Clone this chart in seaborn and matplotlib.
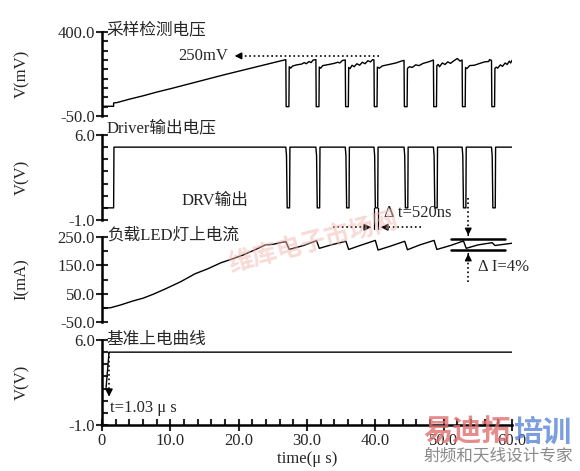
import numpy as np
import matplotlib
matplotlib.use("Agg")
import matplotlib.pyplot as plt
import seaborn as sns
from matplotlib.ticker import MultipleLocator, FixedLocator

# ==========================================
# 0. style / fonts
# ==========================================
sns.set_style("white")
plt.rcParams["font.family"] = ["Liberation Serif", "Noto Sans CJK SC", "DejaVu Sans"]
plt.rcParams["axes.unicode_minus"] = False
FS = 12

# ==========================================
# 1. data
# ==========================================
# panel 1: sampling voltage (mV)
sense_t = [0.0, 1.7, 1.7, 2.2, 4.0, 6.0, 8.0, 10.0, 12.0, 14.0, 16.0, 18.0, 20.0, 22.0, 24.0, 26.9,
           26.95, 27.35, 27.4, 27.6, 27.9, 28.5, 29.2, 29.6, 29.9, 30.3, 30.6, 30.9, 31.3,
           31.35, 31.75, 31.8, 32.0, 32.3, 33.2, 34.0, 34.5, 34.8, 35.2, 35.6,
           35.65, 36.05, 36.1, 36.3, 36.6, 36.9, 37.3, 37.7, 38.1, 38.5, 38.9, 39.3, 39.6, 39.8,
           39.85, 40.25, 40.3, 40.6, 41.0, 42.0, 43.0, 43.8, 44.2,
           44.25, 44.65, 44.7, 45.0, 45.4, 45.9, 46.4, 47.0, 47.6, 48.1, 48.5,
           48.55, 48.95, 49.0, 49.2, 49.4, 49.8, 50.2, 50.6, 51.0, 51.5, 52.0, 52.4, 52.7,
           52.75, 53.15, 53.2, 53.4, 53.8, 54.5, 55.3, 56.0, 56.6, 56.7, 57.0,
           57.05, 57.45, 57.5, 57.7, 57.9, 58.3, 58.6, 59.0, 59.3, 59.6, 59.8, 60.0]
sense_mv = [2, 2, 20, 22, 40, 58, 78, 96, 115, 134, 153, 172, 190, 208, 226, 252,
            0, 0, 214, 206, 218, 224, 228, 236, 230, 242, 236, 250, 252,
            0, 0, 212, 206, 220, 226, 232, 238, 234, 248, 250,
            0, 0, 210, 204, 222, 214, 230, 222, 238, 230, 246, 240, 252, 250,
            0, 0, 212, 206, 218, 226, 234, 244, 248,
            0, 0, 205, 214, 210, 224, 220, 232, 238, 244, 250,
            0, 0, 220, 226, 214, 234, 226, 240, 232, 246, 258, 244, 250,
            0, 0, 210, 204, 220, 222, 232, 240, 242, 252, 248,
            0, 0, 205, 212, 206, 224, 216, 234, 226, 244, 234, 248]

# panel 2: driver output (V)
drv_t = [0.0, 1.7, 1.75,
         26.9, 27.0, 27.1, 27.45, 27.5,
         31.3, 31.4, 31.5, 31.85, 31.9,
         35.6, 35.7, 35.8, 36.15, 36.2,
         39.8, 39.9, 40.0, 40.35, 40.4,
         44.2, 44.3, 44.4, 44.75, 44.8,
         48.5, 48.6, 48.7, 49.05, 49.1,
         52.7, 52.8, 52.9, 53.25, 53.3,
         57.0, 57.1, 57.2, 57.55, 57.6,
         60.0]
drv_v = [0.0, 0.0, 5.0,
         5.0, 4.3, 0.0, 0.0, 5.0,
         5.0, 4.3, 0.0, 0.0, 5.0,
         5.0, 4.3, 0.0, 0.0, 5.0,
         5.0, 4.3, 0.0, 0.0, 5.0,
         5.0, 4.3, 0.0, 0.0, 5.0,
         5.0, 4.3, 0.0, 0.0, 5.0,
         5.0, 4.3, 0.0, 0.0, 5.0,
         5.0, 4.3, 0.0, 0.0, 5.0,
         5.0]

# panel 3: LED load current (mA)
led_t = [0.0, 1.2, 2.7, 4.5, 6.0, 7.5, 9.2, 11.5, 13.6, 15.5, 17.4, 19.0, 20.6, 22.3, 23.9, 25.0, 26.3, 26.9,
         27.4, 29.5, 31.4, 31.8, 33.5, 35.7, 36.1, 38.0, 40.0, 40.4, 42.0, 44.3, 44.7,
         46.5, 48.6, 49.0, 51.0, 52.9, 53.3, 55.0, 57.1, 57.5, 60.0]
led_ma = [0, 0, 10, 24, 34, 48, 66, 92, 120, 138, 159, 172, 186, 204, 222, 224, 231, 234,
          206, 220, 237, 210, 222, 235, 206, 222, 238, 204, 216, 235, 205,
          222, 238, 206, 220, 236, 210, 222, 230, 220, 228]

# panel 4: reference power-up (V)
ref_t = [0.6, 1.03, 60.0]
ref_v = [2.1, 5.0, 5.0]

# ==========================================
# 2. figure
# ==========================================
def plot_driver_waveforms():
    fig = plt.figure(figsize=(5.8, 4.71), dpi=100)
    left, width = 102 / 580, 410 / 580
    boxes = [(116, 84), (220, 85), (322, 85), (425, 85)]
    axes = [fig.add_axes([left, 1 - b / 471, width, h / 471]) for b, h in boxes]
    ax1, ax2, ax3, ax4 = axes

    # faint watermark behind the traces
    fig.text(0.54, 0.485, "维库电子市场网", fontsize=18, color="#f2b8b0", rotation=15, alpha=0.5,
             ha="center", va="center", fontweight="bold", zorder=0, family=["Noto Sans CJK SC"])

    traces = [(ax1, sense_t, sense_mv), (ax2, drv_t, drv_v), (ax3, led_t, led_ma), (ax4, ref_t, ref_v)]
    for ax, t, v in traces:
        sns.lineplot(x=t, y=v, ax=ax, sort=False, estimator=None, color="black", linewidth=1.0)

    ylims = [(-50, 400), (-1, 6), (-50, 250), (-1, 6)]
    majors = [[-50, 400], [-1, 6], [-50, 50, 150, 250], [-1, 6]]
    minors = [50, 1, 50, 1]
    ylabels = ["V(mV)", "V(V)", "I(mA)", "V(V)"]
    titles = ["采样检测电压", "Driver输出电压", "负载LED灯上电流", "基准上电曲线"]
    title_y = [1.02, 1.08, 1.02, 1.0]

    for i, ax in enumerate(axes):
        ax.set_xlim(0, 60)
        ax.set_ylim(*ylims[i])
        ax.yaxis.set_major_locator(FixedLocator(majors[i]))
        ax.yaxis.set_minor_locator(MultipleLocator(minors[i]))
        ax.set_yticklabels([f"{m:.1f}" for m in majors[i]], fontsize=FS)
        ax.tick_params(axis="y", which="major", direction="inout", length=8, width=1.5, pad=1, left=True)
        ax.tick_params(axis="y", which="minor", direction="in", length=4, width=1.5, left=True)
        for s in ["top", "right", "bottom"]:
            ax.spines[s].set_visible(False)
        ax.spines["left"].set_linewidth(1.8)
        ax.spines["left"].set_color("black")
        ax.set_ylabel(ylabels[i], fontsize=FS)
        ax.yaxis.set_label_coords(-0.175, 0.5)
        ax.text(0.012, title_y[i], titles[i], transform=ax.transAxes, fontsize=FS, va="center", ha="left")
        ax.set_facecolor("none")
        if i < 3:
            ax.tick_params(axis="x", bottom=False, labelbottom=False)
            ax.set_xlabel("")

    # bottom time axis
    ax4.spines["bottom"].set_visible(True)
    ax4.spines["bottom"].set_linewidth(1.8)
    ax4.spines["bottom"].set_color("black")
    ax4.xaxis.set_major_locator(FixedLocator([0, 10, 20, 30, 40, 50, 60]))
    ax4.xaxis.set_minor_locator(MultipleLocator(2))
    ax4.set_xticklabels(["0", "10.0", "20.0", "30.0", "40.0", "50.0", "60.0"], fontsize=FS)
    ax4.tick_params(axis="x", which="major", direction="inout", length=8, width=1.5, pad=2, bottom=True)
    ax4.tick_params(axis="x", which="minor", direction="in", length=4, width=1.5, bottom=True)
    ax4.set_xlabel("time(μ s)", fontsize=FS, labelpad=1)

    # ---- annotations panel 1
    ax1.plot([19.6, 40.7], [272, 272], ls=":", color="black", lw=1.2)
    ax1.annotate("", xy=(19.0, 272), xytext=(20.4, 272),
                 arrowprops=dict(arrowstyle="-|>", color="black", lw=1, mutation_scale=10))
    ax1.text(18.5, 272, "250mV", ha="right", va="center", fontsize=FS)

    # ---- annotations panel 2 (delta t)
    ax2.text(11.6, 0.6, "DRV输出", fontsize=FS, va="center", ha="left")
    ax2.plot([39.8, 39.8], [0, -1.75], color="black", lw=0.9, clip_on=False)
    ax2.plot([40.4, 40.4], [0, -1.75], color="black", lw=0.9, clip_on=False)
    ax2.plot([33.8, 39.0], [-1.6, -1.6], ls=":", color="black", lw=1.2, clip_on=False)
    ax2.plot([41.2, 46.9], [-1.6, -1.6], ls=":", color="black", lw=1.2, clip_on=False)
    ax2.annotate("", xy=(39.8, -1.6), xytext=(38.6, -1.6), annotation_clip=False,
                 arrowprops=dict(arrowstyle="-|>", color="black", lw=1, mutation_scale=10))
    ax2.annotate("", xy=(40.4, -1.6), xytext=(41.6, -1.6), annotation_clip=False,
                 arrowprops=dict(arrowstyle="-|>", color="black", lw=1, mutation_scale=10))
    ax2.text(41.3, -0.45, "Δ t=520ns", fontsize=FS, va="center", ha="left")

    # ---- annotations panel 3 (delta I)
    ax3.plot([51.0, 59.0], [244, 244], color="black", lw=1.8)
    ax3.plot([51.0, 59.0], [203, 203], color="black", lw=1.8)
    ax3.plot([53.6, 53.6], [388, 262], ls=":", color="black", lw=1.2, clip_on=False)
    ax3.annotate("", xy=(53.6, 246), xytext=(53.6, 266), annotation_clip=False,
                 arrowprops=dict(arrowstyle="-|>", color="black", lw=1, mutation_scale=10))
    ax3.plot([53.6, 53.6], [90, 182], ls=":", color="black", lw=1.2)
    ax3.annotate("", xy=(53.6, 201), xytext=(53.6, 180),
                 arrowprops=dict(arrowstyle="-|>", color="black", lw=1, mutation_scale=10))
    ax3.text(55.0, 144, "Δ I=4%", fontsize=FS, va="center", ha="left")

    # ---- annotations panel 4
    ax4.plot([1.03, 1.03], [5.0, 1.9], ls=":", color="black", lw=1.2)
    ax4.annotate("", xy=(1.03, 1.1), xytext=(1.03, 2.0),
                 arrowprops=dict(arrowstyle="-|>", color="black", lw=1, mutation_scale=11))
    ax4.text(1.2, 0.4, "t=1.03 μ s", fontsize=FS, va="center", ha="left")

    # ---- corner watermark (overlaps the tick labels, as in the source)
    fig.text(0.73, 0.083, "易迪拓", fontsize=21, color="#e07070", fontweight="bold",
             ha="left", va="center", alpha=0.8, family=["Noto Sans CJK SC"])
    fig.text(0.885, 0.083, "培训", fontsize=21, color="#5b86d6", fontweight="bold",
             ha="left", va="center", alpha=0.8, family=["Noto Sans CJK SC"])
    fig.text(0.73, 0.032, "射频和天线设计专家", fontsize=12, color="#8a8a8a",
             ha="left", va="center", family=["Noto Sans CJK SC"])

    fig.savefig("out.png", dpi=100)


if __name__ == "__main__":
    plot_driver_waveforms()
